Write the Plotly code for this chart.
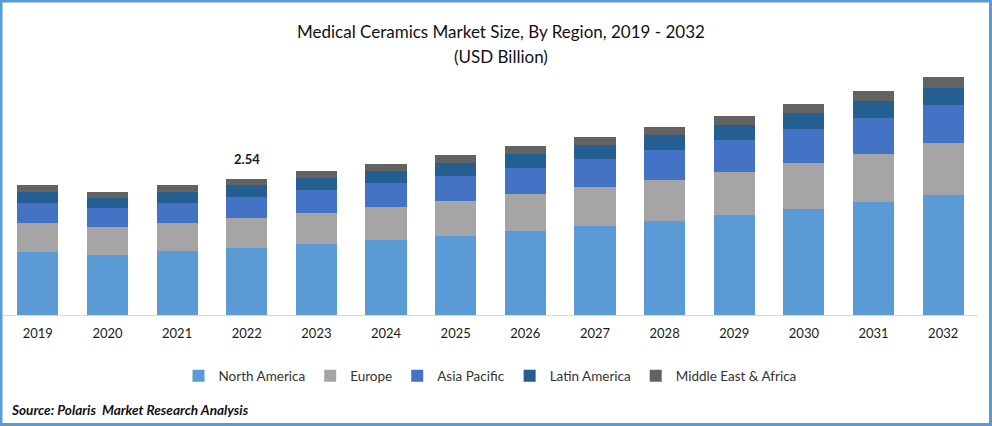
import plotly.graph_objects as go

years = ["2019","2020","2021","2022","2023","2024","2025","2026","2027","2028","2029","2030","2031","2032"]
north_america = [1.18,1.12,1.20,1.25,1.33,1.40,1.48,1.57,1.66,1.76,1.87,1.98,2.11,2.24]
europe = [0.54,0.52,0.52,0.56,0.58,0.62,0.65,0.69,0.73,0.77,0.80,0.86,0.90,0.97]
asia_pacific = [0.37,0.35,0.37,0.39,0.43,0.45,0.47,0.49,0.52,0.56,0.60,0.64,0.67,0.71]
latin_america = [0.21,0.19,0.21,0.22,0.22,0.22,0.24,0.26,0.26,0.28,0.28,0.30,0.32,0.32]
middle_east_africa = [0.13,0.11,0.13,0.12,0.13,0.13,0.15,0.15,0.15,0.15,0.17,0.17,0.19,0.21]
labelled_value = 2.54
labelled_year = "2022"

series = [
    ("North America", north_america, "#5B9BD5"),
    ("Europe", europe, "#A5A5A5"),
    ("Asia Pacific", asia_pacific, "#4472C4"),
    ("Latin America", latin_america, "#255E91"),
    ("Middle East & Africa", middle_east_africa, "#636363"),
]
FONT = "Lato"
TEXT = "#1a1a1a"
W, H = 992, 426
L, R, B = 3, 14, 111
PW, PH = W - L - R, H - B

def px(x):
    return (x - L) / PW

def py(y):
    return 1 - y / PH

fig = go.Figure()
for name, vals, col in series:
    fig.add_bar(x=years, y=vals, name=name, marker=dict(color=col, line=dict(width=0)))

fig.update_layout(
    width=W, height=H, barmode="stack", bargap=0.41,
    paper_bgcolor="white", plot_bgcolor="white",
    margin=dict(l=L, r=R, t=0, b=B),
    font=dict(family=FONT, color=TEXT, size=13),
    legend=dict(orientation="h", x=px(490), xanchor="center", y=py(376), yanchor="middle",
                font=dict(size=13.5, color="#333333"), traceorder="normal"),
    xaxis=dict(type="category", showline=True, linecolor="#D9D9D9", linewidth=1,
               ticks="", tickfont=dict(size=13, color=TEXT), ticklabelstandoff=6,
               range=[-0.5, 13.5]),
    yaxis=dict(showticklabels=False, showgrid=False, zeroline=False, showline=False, ticks="",
               range=[0, PH / 53.54], fixedrange=True),
    showlegend=True,
    shapes=[dict(type="rect", xref="paper", yref="paper", layer="above",
                 x0=px(1), x1=px(W - 1.5), y0=py(H - 1.5), y1=py(1),
                 line=dict(color="#5B9BD5", width=3), fillcolor="rgba(0,0,0,0)")],
    annotations=[
        dict(x=years.index(labelled_year), y=labelled_value, xref="x", yref="y", text=f"<b>{labelled_value}</b>", showarrow=False,
             xanchor="center", yanchor="bottom", yshift=10, font=dict(size=13, color=TEXT, family=FONT)),
        dict(x=px(501), y=py(32), xref="paper", yref="paper", showarrow=False, xanchor="center", yanchor="middle",
             text="Medical Ceramics Market Size, By Region, 2019 - 2032", font=dict(size=17, color="#111111")),
        dict(x=px(501), y=py(56), xref="paper", yref="paper", showarrow=False, xanchor="center", yanchor="middle",
             text="(USD Billion)", font=dict(size=17, color="#111111")),
        dict(x=px(9), y=py(410), xref="paper", yref="paper", xanchor="left", yanchor="middle", showarrow=False,
             text="<b><i>Source: Polaris  Market Research Analysis</i></b>", font=dict(size=13.6, color="#111111")),
    ],
)
fig.write_html("out.html", post_script="document.body.style.margin='0';", config={"displayModeBar": False})
